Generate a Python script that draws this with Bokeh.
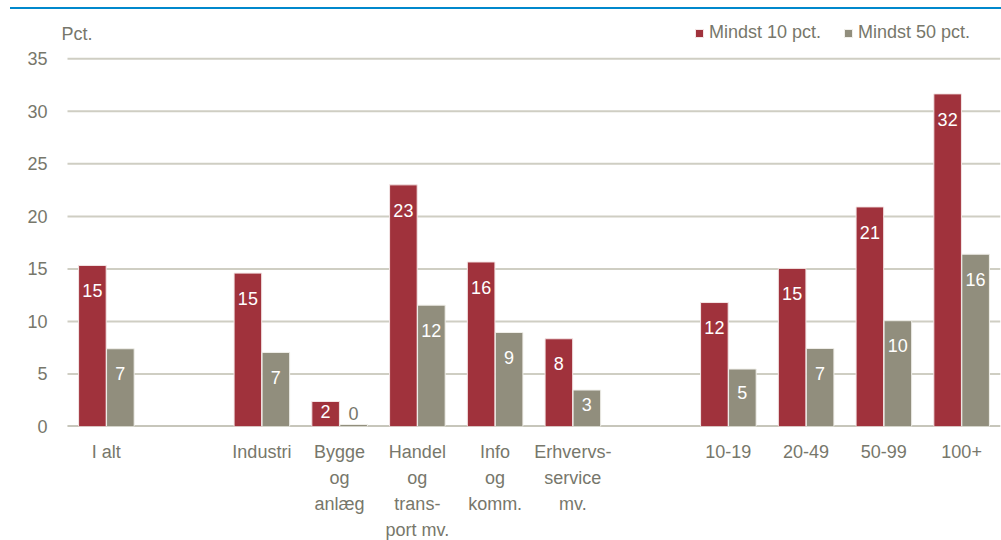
from bokeh.plotting import figure
from bokeh.models import (ColumnDataSource, Range1d, FixedTicker, Legend, LegendItem,
                          Label, Div)
from bokeh.layouts import column
from bokeh.embed import file_html
from bokeh.resources import INLINE
from bokeh.core.properties import value

# ---------------- data ----------------
categories = ["I alt", "", "Industri", "Bygge\nog\nanlæg", "Handel\nog\ntrans-\nport mv.",
              "Info\nog\nkomm.", "Erhvervs-\nservice\nmv.", "", "10-19", "20-49", "50-99", "100+"]
mindst_10 = [15.33, None, 14.6, 2.38, 23.0, 15.66, 8.35, None, 11.8, 15.05, 20.9, 31.66]
mindst_50 = [7.4, None, 7.05, 0.19, 11.55, 8.95, 3.47, None, 5.47, 7.43, 10.07, 16.4]
series_names = ["Mindst 10 pct.", "Mindst 50 pct."]
y_ticks = [0, 5, 10, 15, 20, 25, 30, 35]
y_unit = "Pct."

# ---------------- style ----------------
FONT = "Liberation Sans"
FS = "18px"
RED = "#A0323C"
GREY = "#918E7D"
TXT = "#77776B"
GRID = "#CFCEC3"
AXIS = "#A8A595"

idx = [i for i, c in enumerate(categories) if mindst_10[i] is not None]
n = len(categories)


def label_y(v):
    if v < 1:
        return v + 1.0
    return max(v - 2.4, v * 0.6)


def make_src(vals, offset):
    xs = [i + offset for i in idx]
    ys = [vals[i] for i in idx]
    return ColumnDataSource(dict(
        x=xs, top=ys,
        ly=[label_y(v) for v in ys],
        txt=[str(int(round(v))) for v in ys],
        tc=["white" if v >= 1 else TXT for v in ys],
    ))


src10 = make_src(mindst_10, -0.18)
src50 = make_src(mindst_50, 0.18)

FRAME_H = 417
FRAME_W = 940
px_per_unit_y = (FRAME_H - 49.3) / 35.0
y_end = FRAME_H / px_per_unit_y
slot_px = 77.75
x_start = -0.5 - 7 / slot_px

p = figure(frame_width=FRAME_W, frame_height=FRAME_H, output_backend="svg", toolbar_location=None,
           x_range=Range1d(x_start, n - 0.5), y_range=Range1d(0, y_end),
           min_border_left=60, min_border_right=1, min_border_top=0, min_border_bottom=110)
p.outline_line_color = None
p.background_fill_color = "white"
p.border_fill_color = "white"

# gridlines (start at the first category slot, as in the original)
p.segment(x0=[-0.5] * len(y_ticks), x1=[n - 0.5] * len(y_ticks), y0=y_ticks, y1=y_ticks,
          line_color=GRID, line_width=2)
p.segment(x0=[-0.5], x1=[n - 0.5], y0=[0], y1=[0], line_color=AXIS, line_width=2)

r10 = p.vbar(x="x", top="top", width=0.355, source=src10, fill_color=RED,
             line_color="#F4E6E6", line_width=1)
r50 = p.vbar(x="x", top="top", width=0.355, source=src50, fill_color=GREY,
             line_color="#F0EFEA", line_width=1)

for s in (src10, src50):
    p.text(x="x", y="ly", text="txt", source=s, text_color="tc", text_font=value(FONT),
           text_font_size=FS, text_align="center", text_baseline="middle")

# axes
p.xaxis.ticker = FixedTicker(ticks=idx)
p.xaxis.major_label_overrides = {i: categories[i] for i in idx}
p.xaxis.major_label_text_font = FONT
p.xaxis.major_label_text_font_size = FS
p.xaxis.major_label_text_color = TXT
p.xaxis.major_label_text_line_height = 1.3
p.xaxis.major_label_standoff = 9
p.xaxis.major_tick_line_color = None
p.xaxis.minor_tick_line_color = None
p.xaxis.axis_line_color = None

p.yaxis.ticker = FixedTicker(ticks=y_ticks)
p.yaxis.major_label_text_font = FONT
p.yaxis.major_label_text_font_size = FS
p.yaxis.major_label_text_color = TXT
p.yaxis.major_label_standoff = 7
p.yaxis.major_tick_line_color = None
p.yaxis.minor_tick_line_color = None
p.yaxis.axis_line_color = None

p.xgrid.grid_line_color = None
p.ygrid.grid_line_color = None

p.add_layout(Label(x=1, y=FRAME_H - 24, x_units="screen", y_units="screen", text=y_unit,
                   text_font=FONT, text_font_size=FS, text_color=TXT,
                   text_baseline="middle", text_align="left"))

legend = Legend(items=[LegendItem(label=series_names[0], renderers=[r10]),
                       LegendItem(label=series_names[1], renderers=[r50])],
                orientation="horizontal", location=(634, FRAME_H - 34),
                label_text_font=FONT, label_text_font_size=FS, label_text_color=TXT,
                glyph_width=10, glyph_height=10, label_standoff=5, spacing=22,
                padding=0, margin=0, border_line_color=None, background_fill_alpha=0,
                label_height=20)
p.add_layout(legend)

topline = Div(text="", width=1001, height=9, margin=0,
              styles={"border-bottom": "2px solid #0088CC", "margin-left": "10px",
                      "box-sizing": "border-box", "width": "991px", "height": "9px"})

layout = column(topline, p, spacing=0)
open("out.html", "w").write(file_html(layout, INLINE))
